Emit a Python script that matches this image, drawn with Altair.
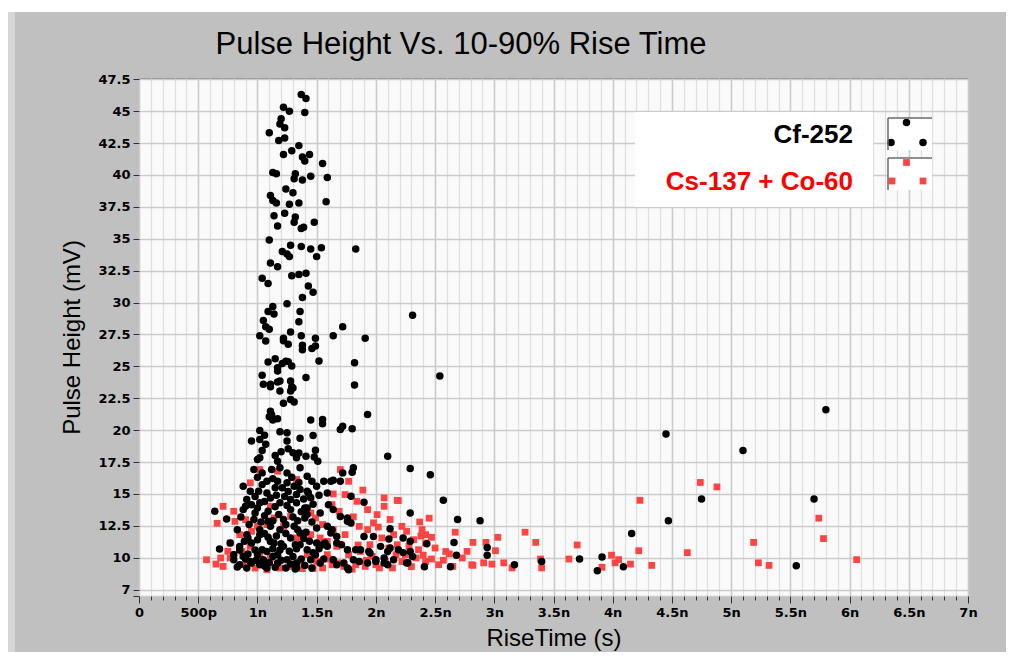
import altair as alt
import pandas as pd

# ---------------- data (rise time in ns, pulse height in mV) ----------------
cf_tower = [(1.37,46.3),(1.41,46.0),(1.22,45.3),(1.27,45.0),(1.40,44.9),(1.20,44.4),(1.19,44.0),(1.23,43.7),
 (1.10,43.3),(1.18,42.7),(1.23,42.9),(1.35,42.3),(1.29,41.9),(1.22,41.6),(1.38,41.4),(1.44,41.6),(1.40,41.1),
 (1.55,40.9),(1.13,40.2),(1.16,40.1),(1.32,40.1),(1.31,39.7),(1.38,39.6),(1.45,39.9),(1.59,39.8),(1.24,38.9),
 (1.30,38.6),(1.11,38.4),(1.13,38.0),(1.16,37.8),(1.27,37.7),(1.35,37.8),(1.58,37.9),(1.14,36.8),(1.23,37.0),
 (1.32,36.7),(1.31,36.3),(1.17,36.0),(1.48,36.3),(1.37,35.8),(1.39,35.9),(1.10,34.9),(1.28,34.5),(1.37,34.4),
 (1.45,34.2),(1.54,34.3),(1.83,34.2),(1.21,34.0),(1.25,33.8),(1.27,33.6),(1.50,33.6),(1.11,33.1),(1.17,32.8),
 (1.04,31.9),(1.09,31.5),(1.29,32.1),(1.35,32.2),(1.41,32.3),(1.43,31.3),(1.47,30.8),(1.38,30.4),(1.25,29.9),
 (1.13,29.7),(1.09,29.3),(1.14,29.1),(1.36,29.3),(1.05,28.6),(1.07,28.1),(1.10,27.9),(1.35,28.5),(1.28,27.7),
 (2.31,29.0),(1.72,28.1),(1.64,27.4),(1.02,27.4),(1.22,27.2),(1.37,27.4),(1.49,27.2),(1.91,27.2)]

cf_mid = [(1.07,26.99),(1.26,26.73),(1.38,26.65),(1.46,26.39),(1.52,25.42),(1.82,25.29),(1.09,25.34),(1.17,24.90),
 (1.21,25.22),(1.26,25.37),(1.29,25.03),(1.17,24.64),(1.04,24.30),(1.41,24.12),(1.82,23.54),(2.54,24.24),
 (1.19,23.85),(1.17,23.77),(1.28,23.85),(1.05,23.59),(1.11,23.59),(1.19,23.06),(1.28,23.06),(1.29,23.41),
 (1.22,22.10),(1.31,22.20),(1.11,21.49),(1.10,21.05),(1.17,20.90),(1.93,21.23),(1.45,20.79),(1.55,20.84),
 (1.55,20.50),(1.70,20.05),(1.72,20.31),(1.80,20.11),(1.02,19.98),(1.19,19.87),(1.25,19.80),(1.36,19.37),
 (1.47,19.58),(0.95,19.14),(1.02,19.27),(1.25,19.14),(1.04,18.41),(1.02,17.83),(1.15,18.01),(1.17,17.56),
 (1.26,18.54),(1.30,18.22),(1.33,17.83),(1.41,17.96),(1.49,18.43),(1.51,17.56),(2.10,17.96),(1.00,17.70),
 (1.22,27.0),(1.38,26.3),(1.49,26.6),(1.15,25.6),(1.24,25.4),(1.11,23.4),(1.28,22.4),(1.30,23.3),(1.12,21.2),
 (1.13,20.8),(1.06,19.6),(1.07,18.9),(1.20,18.3),(1.35,18.2),(1.48,17.9)]

cf_core = [(0.97,16.91),(1.04,16.65),(1.12,16.91),(1.19,17.05),(1.25,16.65),(1.36,17.05),(1.42,16.39),(0.88,15.60),
 (0.94,15.21),(1.04,15.73),(1.08,15.08),(1.17,15.99),(1.21,15.48),(1.31,15.60),(1.36,15.34),(1.50,15.60),
 (1.56,15.99),(1.64,16.07),(1.72,16.65),(1.81,17.05),(1.80,16.70),(1.43,15.08),(1.52,14.89),(1.59,15.08),
 (1.79,14.82),(1.90,14.34),(0.91,14.56),(0.95,14.16),(1.02,14.30),(1.11,14.69),(1.19,14.30),(1.28,14.56),
 (1.33,14.30),(1.40,13.90),(0.64,13.64),(0.74,13.04),(0.88,13.77),(0.98,13.51),(1.09,13.64),(1.18,13.38),
 (1.28,13.77),(1.42,13.38),(1.64,13.77),(1.70,13.24),(1.76,12.85),(1.79,12.73),(0.83,12.20),(0.91,11.81),
 (1.02,12.20),(1.11,12.46),(1.19,12.20),(1.31,12.46),(1.36,11.94),(1.59,12.46),(1.62,11.94),(1.67,11.67),
 (1.98,11.67),(2.12,12.28),(2.11,11.47),(2.23,11.55),(0.68,10.68),(0.77,11.15),(0.85,10.89),(0.95,11.15),
 (1.04,10.63),(1.14,11.15),(1.22,10.89),(1.32,11.02),(1.42,10.63),(1.50,11.15),(1.59,10.89),(1.67,11.15),
 (1.76,10.63),(1.87,10.63),(1.95,10.37),(2.04,10.89),(2.12,10.76),(2.19,10.63),(2.29,10.49),(0.80,9.84),
 (0.88,10.10),(0.95,9.58),(1.05,9.84),(1.17,9.58),(1.25,9.84),(1.33,9.58),(1.45,9.84),(1.53,9.58),(1.64,9.84),
 (1.73,9.58),(1.81,9.84),(1.93,9.58),(2.00,9.84),(2.07,9.58),(2.15,9.84),(2.26,9.58),(0.83,9.27),(0.91,9.19),
 (1.08,9.19),(1.24,9.19),(1.32,9.11),(1.76,9.19),(1.77,9.06),
 (0.90,14.03),(1.01,15.21),(1.15,15.48),(1.25,15.87),(1.33,14.95),(1.42,15.21),(0.92,11.55),(1.02,11.81),
 (1.09,12.85),(1.11,11.28),(1.28,11.55),(1.36,11.02),(1.08,10.49),(1.17,10.24),(1.00,10.24),(0.80,10.24),
 (0.85,9.45),(0.94,9.71),(1.02,9.45),(1.33,9.19),(1.40,13.12),(1.42,13.90),(1.50,12.33),(1.55,11.02),
 (1.49,10.24),(1.60,14.16),(1.62,15.99),(1.70,15.99),(1.76,13.12),(1.63,12.20),(1.90,11.67),(1.57,11.15),
 (1.71,11.02),(1.83,10.63),(1.94,10.49),(2.10,10.49),(2.31,10.10),(2.07,9.98),(2.00,9.71),(1.86,9.71),
 (1.67,9.45),(2.10,9.45)]

cf_dense = [(0.86,13.2),(0.93,12.6),(0.97,13.0),(1.00,13.9),(1.03,12.8),(1.06,13.3),(1.13,12.9),(1.15,14.0),
 (1.22,13.0),(1.25,14.1),(1.24,12.6),(1.30,13.2),(1.34,12.9),(1.37,13.6),(1.46,12.8),(1.47,14.2),(1.53,13.5),
 (0.89,11.3),(0.98,10.6),(1.00,11.4),(1.06,11.9),(1.13,10.7),(1.16,11.7),(1.20,11.1),(1.24,11.9),(1.27,10.5),
 (1.30,10.1),(1.34,12.2),(1.39,11.5),(1.44,11.3),(1.47,10.4),(1.52,10.7),(1.56,9.9),(0.90,9.9),(0.99,9.8),
 (1.10,9.6),(1.13,10.1),(1.20,9.8),(1.28,9.5),(1.37,9.9),(1.40,9.4),(1.06,9.35),(1.15,9.25),(1.46,9.2),
 (0.85,10.6),(0.92,10.3),(1.09,11.6),(1.19,10.6),(1.33,10.7),(1.41,12.0),(1.26,15.2),(1.13,16.2),(1.08,16.0),
 (1.29,16.3),(1.35,15.9),(1.46,16.0),(1.00,16.3),(0.98,14.8),(1.06,14.4),(1.16,14.9),(1.39,14.6),(1.45,14.7),
 (1.23,14.8)]

cf_tail = [(4.45,19.7),(5.10,18.4),(5.80,21.6),(4.75,14.6),(4.47,12.9),(4.16,11.9),(5.70,14.6),(5.55,9.37),
 (3.87,8.98),(3.91,10.05),(4.09,9.3),(3.72,9.9),(3.40,9.7),(3.17,9.45),(2.94,10.8),(2.94,10.2),(2.88,12.9),
 (2.69,13.0),(2.66,11.2),(2.68,10.2),(2.63,9.3),(2.57,14.5),(2.43,11.1),(2.41,9.3),(2.29,17.0),(2.46,16.5),
 (2.29,13.5),(2.29,11.3),(2.23,10.4),(2.27,9.6)]

cs_core = [(1.02,16.91),(1.17,16.78),(1.33,16.13),(0.94,15.87),(1.11,14.03),(0.71,14.03),(0.80,13.64),(0.57,9.84),
 (0.69,9.98),(0.71,9.32),(0.77,11.15),(0.81,12.85),(0.90,12.98),(1.00,12.46),(0.85,11.81),(0.95,12.07),
 (0.80,10.24),(0.88,9.45),(0.98,9.19),(1.08,9.06),(1.19,9.19),(1.28,9.32),(1.36,9.71),(1.45,11.81),(1.53,11.55),
 (1.59,10.24),(1.50,9.71),(1.42,10.24),(1.33,11.55),(1.22,12.46),(1.28,13.24),(1.14,13.12),(1.08,12.59),
 (1.45,13.51),(1.49,13.12),(1.11,9.98),(1.02,10.24),(0.94,10.89),(0.87,10.49),(0.77,9.98),
 (1.70,16.91),(1.77,15.99),(1.74,14.95),(1.63,14.16),(1.69,13.64),(1.84,14.42),(1.93,13.77),(2.07,14.69),
 (2.19,14.48),(2.07,14.03),(2.01,13.38),(1.98,12.73),(1.93,12.20),(1.86,12.46),(1.74,11.81),(1.64,12.20),
 (1.59,11.28),(1.67,10.89),(1.77,10.24),(1.87,10.49),(1.95,11.02),(2.05,11.55),(2.15,11.81),(2.22,12.46),
 (2.26,12.07),(2.32,11.41),(2.42,11.81),(2.42,11.15),(2.50,10.76),(2.59,10.49),(2.73,9.98),(2.81,9.45),
 (2.65,9.32),(2.53,9.45),(2.42,9.71),(2.34,9.98),(2.25,10.24),(2.17,10.24),(2.08,9.71),(2.00,9.45),(1.91,9.32),
 (1.83,9.45),(1.73,9.32),(1.63,9.45),(2.18,11.02),(2.11,10.76),(2.36,10.63),
 (1.55,9.2),(1.68,9.6),(1.80,9.1),(1.92,9.8),(2.03,9.2),(2.14,9.2),(2.22,9.7),(2.30,9.3),(2.40,10.2),
 (2.47,9.9),(2.57,9.8),(2.62,10.3),(1.47,9.15),(1.38,9.15),(1.60,9.9),(1.85,11.0),(1.97,10.1),(2.28,10.9),
 (2.02,12.4),(1.81,13.2),(1.55,12.6),(1.64,15.0),(1.89,15.3),(2.12,13.0),(2.37,12.8),(0.65,9.5),(0.75,10.5),
 (0.66,12.7)]

cs_tail = [(2.18,14.5),(2.45,13.1),(2.39,12.2),(2.47,11.6),(2.38,11.7),(2.67,12.0),(2.82,11.2),(2.77,10.5),
 (2.93,11.2),(3.03,11.6),(3.01,10.55),(2.91,9.6),(2.98,9.5),(3.08,9.6),(3.15,9.2),(3.26,12.0),(3.35,11.2),
 (3.39,9.9),(3.40,9.2),(3.63,9.9),(3.70,11.0),(3.99,10.2),(4.02,9.6),(4.05,9.85),(3.91,9.25),(4.15,9.5),
 (4.22,10.55),(4.23,14.5),(4.33,9.4),(4.63,10.4),(4.74,15.9),(4.88,15.55),(5.19,11.2),(5.23,9.6),(5.32,9.4),
 (5.74,13.1),(5.78,11.5),(6.06,9.85),(2.82,9.4)]

x_ticks = [i / 10 for i in range(71)]
y_ticks = [7, 7.5, 10, 12.5, 15, 17.5, 20, 22.5, 25, 27.5, 30, 32.5, 35, 37.5, 40, 42.5, 45, 47.5]
series_names = ["Cf-252", "Cs-137 + Co-60"]
chart_title = "Pulse Height Vs. 10-90% Rise Time"

cf = pd.DataFrame(cf_tower + cf_mid + cf_core + cf_dense + cf_tail, columns=["rise", "height"])
cs = pd.DataFrame(cs_core + cs_tail, columns=["rise", "height"])

W, H = 829, 518
PL, PT, PR, PB = 131, 70, 38, 56

major = "abs(datum.value*2 - round(datum.value*2)) < 0.01"
x_label = ("%s ? (datum.value < 0.01 ? '0' : (abs(datum.value - 0.5) < 0.01 ? '500p' : "
           "format(datum.value, '.2~f') + 'n')) : ''") % major

x_axis = alt.Axis(values=x_ticks, labelExpr=x_label, labelOverlap=False, labelFlush=False,
                  labelFont="DejaVu Sans", labelFontWeight="bold", labelFontSize=13, labelColor="#000",
                  labelPadding=3,
                  tickSize={"condition": {"test": major, "value": 7}, "value": 4},
                  tickColor="#303030", tickWidth=1, domain=False,
                  grid=True,
                  gridColor={"condition": {"test": major, "value": "#cbcbcb"}, "value": "#dedede"},
                  gridWidth={"condition": {"test": major, "value": 1.6}, "value": 1.2},
                  title="RiseTime (s)", titleFont="Liberation Sans", titleFontSize=24,
                  titleFontWeight="normal", titleColor="#000", titleBaseline="middle", titleY=42)

y_axis = alt.Axis(values=y_ticks, labelExpr="datum.value == 7.5 ? '' : toString(datum.value)",
                  labelOverlap=False, labelFlush=False,
                  labelFont="DejaVu Sans", labelFontWeight="bold", labelFontSize=13, labelColor="#000",
                  labelPadding=3,
                  labelBaseline={"condition": {"test": "datum.value < 7.2", "value": "bottom"}, "value": "middle"},
                  tickSize=6, tickColor="#303030", domain=False,
                  grid=True, gridColor="#cbcbcb", gridWidth=1.6,
                  title="Pulse Height (mV)", titleFont="Liberation Sans", titleFontSize=24,
                  titleFontWeight="normal", titleColor="#000", titleBaseline="middle",
                  titleX=-67, titleY=H / 2)

X = alt.X("rise:Q", scale=alt.Scale(domain=[0, 7], nice=False, zero=False), axis=x_axis)
Y = alt.Y("height:Q", scale=alt.Scale(domain=[7, 47.6], nice=False, zero=False), axis=y_axis)

one = pd.DataFrame({"a": [0]})

def rect(x, x2, y, y2, color):
    return alt.Chart(one).mark_rect(color=color, opacity=1).encode(
        x=alt.value(x), x2=alt.value(x2), y=alt.value(y), y2=alt.value(y2))

def rule(x, x2, y, y2, color, w):
    return alt.Chart(one).mark_rule(color=color, strokeWidth=w).encode(
        x=alt.value(x), x2=alt.value(x2), y=alt.value(y), y2=alt.value(y2))

def sym(kind, x, y, color):
    m = alt.Chart(one)
    m = m.mark_circle(size=56, color=color, opacity=1) if kind == "c" else m.mark_square(size=46, color=color, opacity=1)
    return m.encode(x=alt.value(x), y=alt.value(y))

def label(txt, x, y, color, size=26, weight="bold", align="right"):
    return alt.Chart(one).mark_text(text=txt, align=align, baseline="middle", font="Liberation Sans",
                                    fontWeight=weight, fontSize=size, color=color).encode(
        x=alt.value(x), y=alt.value(y))

# decoration of the LabVIEW-like panel
top_band = rect(-PL, W + PR, -PT, -PT + 4, "#ffffff")
left_strip = rect(-PL, -PL + 7, -PT + 4, H + PB, "#d6d6d6")
title = label(chart_title, 322, -33, "#000000", size=31, weight="normal", align="center")

red_pts = alt.Chart(cs).mark_square(size=46, color="#ff4444", opacity=1).encode(x=X, y=Y)
blk_pts = alt.Chart(cf).mark_circle(size=56, color="#000000", opacity=1).encode(x=X, y=Y)

legend_layers = [
    rect(496, 734, 34, 129, "#ffffff"),
    label(series_names[0], 714, 57, "#000000"),
    label(series_names[1], 714, 104, "#ff0000"),
    rect(749, 793, 40, 72, "#ffffff"),
    rect(749, 793, 80, 112, "#ffffff"),
    sym("c", 767.5, 44.5, "#000000"), sym("c", 752, 64.5, "#000000"), sym("c", 784, 64.5, "#000000"),
    sym("s", 767.5, 84.5, "#ff4444"), sym("s", 753, 103, "#ff4444"), sym("s", 784, 103, "#ff4444"),
    rule(749, 793, 40, 40, "#6a6a6a", 1.5), rule(749, 749, 40, 72, "#6a6a6a", 1.5),
    rule(749, 793, 80, 80, "#6a6a6a", 1.5), rule(749, 749, 80, 112, "#6a6a6a", 1.5),
]

chart = alt.layer(red_pts, blk_pts, top_band, left_strip, title, *legend_layers).properties(
    width=W, height=H,
    background="#c0c0c0",
    padding={"left": PL, "top": PT, "right": PR, "bottom": PB},
    autosize=alt.AutoSizeParams(type="none"),
).configure_view(stroke="#8c8c8c", strokeWidth=1, fill="#fafafa")

chart.save("out.html", embed_options={"renderer": "svg", "actions": False})
